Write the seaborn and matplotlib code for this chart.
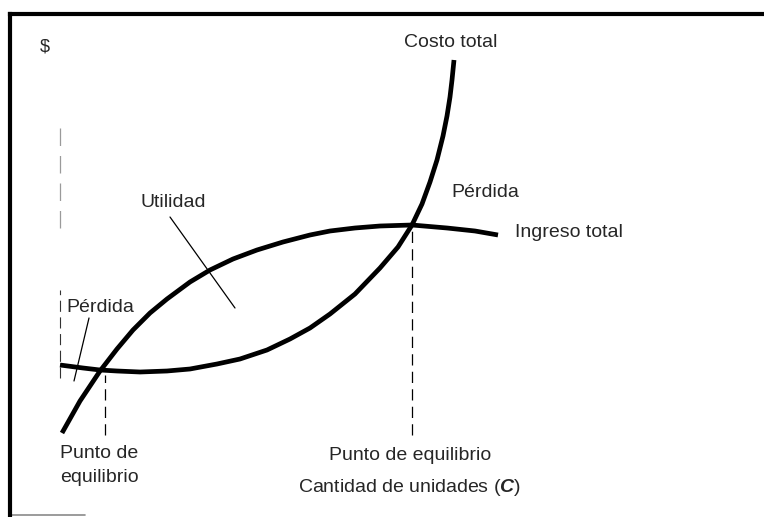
import matplotlib
matplotlib.use('Agg')
import matplotlib.pyplot as plt
import seaborn as sns
import pandas as pd

# Break-even chart (punto de equilibrio)
# x = cantidad de unidades, y = $ (same arbitrary scale for both curves)
ingreso_x = [62, 80, 100, 117, 133, 150, 167, 190, 210, 233, 257, 283, 310, 330, 355, 380, 412, 447, 475, 498]
ingreso_y = [84, 116, 146, 168, 187, 204, 218, 235, 247, 258, 267, 275, 282, 286, 289, 291, 292, 289, 286, 282]

costo_x = [60, 83, 100, 117, 140, 167, 190, 217, 240, 267, 290, 310, 330, 355, 380, 398, 412,
           422, 430, 437, 443, 447, 450, 452, 454]
costo_y = [152, 149, 147, 146, 145, 146, 148, 153, 158, 167, 178, 189, 203, 223, 249, 270, 292,
           313, 335, 357, 381, 401, 420, 437, 457]

equilibrio_x = [105, 412]
equilibrio_top = [142, 287]

df = pd.concat([
    pd.DataFrame({'unidades': ingreso_x, 'dinero': ingreso_y, 'curva': 'Ingreso total'}),
    pd.DataFrame({'unidades': costo_x, 'dinero': costo_y, 'curva': 'Costo total'}),
])

sns.set_theme(style='white')
plt.rcParams['font.family'] = ['Liberation Sans', 'DejaVu Sans']
plt.rcParams['mathtext.fontset'] = 'custom'
plt.rcParams['mathtext.rm'] = 'Liberation Sans'
plt.rcParams['mathtext.bfit'] = 'Liberation Sans:italic:bold'

fig = plt.figure(figsize=(7.64, 5.17), dpi=100)
ax = fig.add_axes([10 / 764, 0, 754 / 764, 503 / 517])
ax.set_xlim(10, 764)
ax.set_ylim(0, 503)

sns.lineplot(data=df, x='unidades', y='dinero', units='curva', estimator=None, sort=False,
             color='black', linewidth=3.4, ax=ax, legend=False,
             solid_capstyle='butt', solid_joinstyle='round')

# break-even guides
ax.vlines(equilibrio_x, 82, equilibrio_top, colors='black', linewidth=0.9,
          linestyles=(0, (9, 5)))
# faint left axis trace
ax.vlines([60], [289], [389], colors='#9a9a9a', linewidth=0.9, linestyles=(0, (14, 8)))
ax.vlines([60], [139], [227], colors='#333333', linewidth=0.8, linestyles=(0, (10, 5)))

# leader lines
ax.plot([170, 235], [300, 209], color='black', linewidth=0.9)
ax.plot([89, 74], [199, 136], color='black', linewidth=0.9)

fs = 14
ax.text(45, 470, '$', fontsize=13, ha='center', va='center')
ax.text(451, 475, 'Costo total', fontsize=fs, ha='center', va='center')
ax.text(173, 315, 'Utilidad', fontsize=fs, ha='center', va='center')
ax.text(100, 210, 'Pérdida', fontsize=fs, ha='center', va='center')
ax.text(485, 325, 'Pérdida', fontsize=fs, ha='center', va='center')
ax.text(515, 285, 'Ingreso total', fontsize=fs, ha='left', va='center')
ax.text(60, 64, 'Punto de', fontsize=fs, ha='left', va='center')
ax.text(60, 40, 'equilibrio', fontsize=fs, ha='left', va='center')
ax.text(410, 62, 'Punto de equilibrio', fontsize=fs, ha='center', va='center')
ax.text(410, 30, r'Cantidad de unidades ($\mathbfit{C}$)', fontsize=fs, ha='center', va='center')

# frame: thick left and top rules, short grey rule at the bottom
for side in ['right', 'bottom']:
    ax.spines[side].set_visible(False)
for side in ['left', 'top']:
    ax.spines[side].set_color('black')
    ax.spines[side].set_linewidth(3.0)
ax.axhline(2, xmin=0, xmax=(85 - 10) / 754, color='#8a8a8a', linewidth=1.2)

ax.set_xticks([])
ax.set_yticks([])
ax.set_xlabel('')
ax.set_ylabel('')

fig.savefig('out.png', dpi=100, facecolor='white')
